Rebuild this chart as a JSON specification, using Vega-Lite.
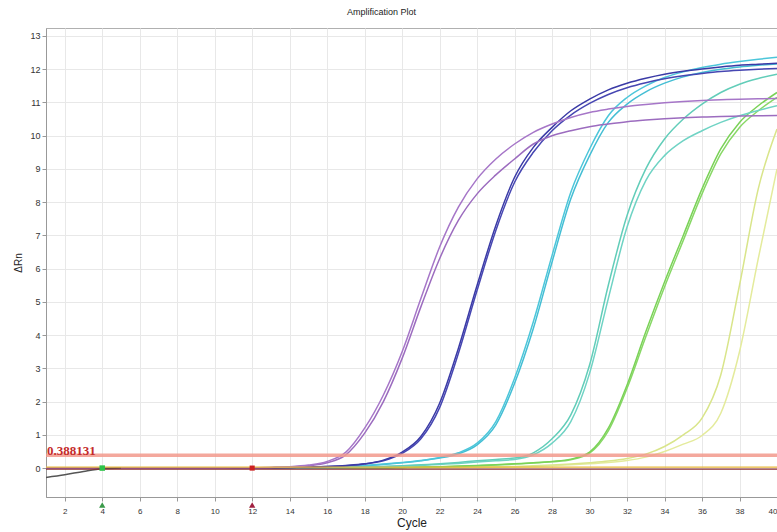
{
  "$schema": "https://vega.github.io/schema/vega-lite/v6.json",
  "width": 731,
  "height": 469,
  "autosize": {"type": "none"},
  "padding": {"left": 46, "top": 28, "right": 0, "bottom": 35},
  "background": "white",
  "title": {"text": "Amplification Plot", "fontSize": 9, "fontWeight": "normal", "color": "#222", "font": "Liberation Sans", "offset": 11, "dx": -30},
  "config": {
    "font": "Liberation Sans",
    "view": {"stroke": "#b0b0b0", "strokeWidth": 1},
    "axis": {"gridColor": "#e8e8e8", "domainColor": "#999", "tickColor": "#999", "labelColor": "#333", "titleColor": "#222", "titleFontWeight": "normal", "labelOverlap": false, "labelSeparation": 0},
    "axisX": {"title": "Cycle", "values": [2,4,6,8,10,12,14,16,18,20,22,24,26,28,30,32,34,36,38], "labelFontSize": 8, "tickSize": 4, "labelPadding": 6, "titleFontSize": 12, "titlePadding": 2, "grid": true},
    "axisY": {"title": "ΔRn", "values": [0,1,2,3,4,5,6,7,8,9,10,11,12,13], "labelFontSize": 9, "tickSize": 4, "labelPadding": 2, "titleFontSize": 10, "titlePadding": 6, "grid": true}
  },
  "data": {"values": [
    {"cycle":1,"PA":0,"PB":0,"D1":0,"D2":0,"C1":0,"C2":0,"T1":0,"T2":0,"G1":0,"G2":0,"Y1":0,"Y2":0,"K":-0.28},
    {"cycle":2,"PA":0,"PB":0,"D1":0,"D2":0,"C1":0,"C2":0,"T1":0,"T2":0,"G1":0,"G2":0,"Y1":0,"Y2":0,"K":-0.2},
    {"cycle":3,"PA":0,"PB":0,"D1":0,"D2":0,"C1":0,"C2":0,"T1":0,"T2":0,"G1":0,"G2":0,"Y1":0,"Y2":0,"K":-0.1},
    {"cycle":4,"PA":0,"PB":0,"D1":0,"D2":0,"C1":0,"C2":0,"T1":0,"T2":0,"G1":0,"G2":0,"Y1":0,"Y2":0,"K":-0.02},
    {"cycle":5,"PA":0,"PB":0,"D1":0,"D2":0,"C1":0,"C2":0,"T1":0,"T2":0,"G1":0,"G2":0,"Y1":0,"Y2":0,"K":0},
    {"cycle":6,"PA":0,"PB":0,"D1":0,"D2":0,"C1":0,"C2":0,"T1":0,"T2":0,"G1":0,"G2":0,"Y1":0,"Y2":0},
    {"cycle":7,"PA":0,"PB":0,"D1":0,"D2":0,"C1":0,"C2":0,"T1":0,"T2":0,"G1":0,"G2":0,"Y1":0,"Y2":0},
    {"cycle":8,"PA":0,"PB":0,"D1":0,"D2":0,"C1":0,"C2":0,"T1":0,"T2":0,"G1":0,"G2":0,"Y1":0,"Y2":0},
    {"cycle":9,"PA":0,"PB":0,"D1":0,"D2":0,"C1":0,"C2":0,"T1":0,"T2":0,"G1":0,"G2":0,"Y1":0,"Y2":0},
    {"cycle":10,"PA":0,"PB":0,"D1":0,"D2":0,"C1":0,"C2":0,"T1":0,"T2":0,"G1":0,"G2":0,"Y1":0,"Y2":0},
    {"cycle":11,"PA":0.01,"PB":0.01,"D1":0,"D2":0,"C1":0,"C2":0,"T1":0,"T2":0,"G1":0,"G2":0,"Y1":0,"Y2":0},
    {"cycle":12,"PA":0.01,"PB":0.01,"D1":0,"D2":0,"C1":0,"C2":0,"T1":0,"T2":0,"G1":0,"G2":0,"Y1":0,"Y2":0},
    {"cycle":13,"PA":0.02,"PB":0.02,"D1":0.01,"D2":0.01,"C1":0,"C2":0,"T1":0,"T2":0,"G1":0,"G2":0,"Y1":0,"Y2":0},
    {"cycle":14,"PA":0.04,"PB":0.03,"D1":0.02,"D2":0.02,"C1":0.01,"C2":0.01,"T1":0,"T2":0,"G1":0,"G2":0,"Y1":0,"Y2":0},
    {"cycle":15,"PA":0.09,"PB":0.07,"D1":0.03,"D2":0.03,"C1":0.02,"C2":0.02,"T1":0.01,"T2":0.01,"G1":0,"G2":0,"Y1":0,"Y2":0},
    {"cycle":16,"PA":0.2,"PB":0.16,"D1":0.05,"D2":0.05,"C1":0.03,"C2":0.03,"T1":0.01,"T2":0.01,"G1":0,"G2":0,"Y1":0,"Y2":0},
    {"cycle":17,"PA":0.48,"PB":0.4,"D1":0.08,"D2":0.07,"C1":0.05,"C2":0.05,"T1":0.02,"T2":0.02,"G1":0.01,"G2":0.01,"Y1":0,"Y2":0},
    {"cycle":18,"PA":1.2,"PB":1.05,"D1":0.13,"D2":0.12,"C1":0.08,"C2":0.07,"T1":0.03,"T2":0.03,"G1":0.01,"G2":0.01,"Y1":0,"Y2":0},
    {"cycle":19,"PA":2.2,"PB":2.0,"D1":0.24,"D2":0.22,"C1":0.12,"C2":0.11,"T1":0.05,"T2":0.04,"G1":0.01,"G2":0.01,"Y1":0.01,"Y2":0},
    {"cycle":20,"PA":3.5,"PB":3.3,"D1":0.48,"D2":0.44,"C1":0.17,"C2":0.16,"T1":0.07,"T2":0.06,"G1":0.02,"G2":0.02,"Y1":0.01,"Y2":0.01},
    {"cycle":21,"PA":5.1,"PB":4.85,"D1":0.95,"D2":0.88,"C1":0.23,"C2":0.22,"T1":0.1,"T2":0.08,"G1":0.03,"G2":0.03,"Y1":0.01,"Y2":0.01},
    {"cycle":22,"PA":6.65,"PB":6.3,"D1":1.95,"D2":1.82,"C1":0.32,"C2":0.3,"T1":0.13,"T2":0.11,"G1":0.04,"G2":0.04,"Y1":0.02,"Y2":0.01},
    {"cycle":23,"PA":7.85,"PB":7.45,"D1":3.6,"D2":3.45,"C1":0.46,"C2":0.43,"T1":0.17,"T2":0.14,"G1":0.06,"G2":0.05,"Y1":0.02,"Y2":0.01},
    {"cycle":24,"PA":8.7,"PB":8.25,"D1":5.5,"D2":5.35,"C1":0.75,"C2":0.7,"T1":0.22,"T2":0.18,"G1":0.08,"G2":0.07,"Y1":0.03,"Y2":0.02},
    {"cycle":25,"PA":9.3,"PB":8.82,"D1":7.3,"D2":7.15,"C1":1.4,"C2":1.3,"T1":0.26,"T2":0.22,"G1":0.1,"G2":0.09,"Y1":0.04,"Y2":0.03},
    {"cycle":26,"PA":9.75,"PB":9.3,"D1":8.75,"D2":8.6,"C1":2.7,"C2":2.55,"T1":0.3,"T2":0.26,"G1":0.13,"G2":0.12,"Y1":0.05,"Y2":0.04},
    {"cycle":27,"PA":10.1,"PB":9.75,"D1":9.65,"D2":9.5,"C1":4.4,"C2":4.2,"T1":0.46,"T2":0.4,"G1":0.16,"G2":0.15,"Y1":0.07,"Y2":0.05},
    {"cycle":28,"PA":10.35,"PB":10.0,"D1":10.25,"D2":10.15,"C1":6.4,"C2":6.2,"T1":0.88,"T2":0.75,"G1":0.2,"G2":0.19,"Y1":0.09,"Y2":0.07},
    {"cycle":29,"PA":10.55,"PB":10.15,"D1":10.75,"D2":10.62,"C1":8.3,"C2":8.1,"T1":1.6,"T2":1.4,"G1":0.27,"G2":0.25,"Y1":0.12,"Y2":0.1},
    {"cycle":30,"PA":10.7,"PB":10.27,"D1":11.1,"D2":10.97,"C1":9.6,"C2":9.4,"T1":3.1,"T2":2.85,"G1":0.48,"G2":0.45,"Y1":0.16,"Y2":0.13},
    {"cycle":31,"PA":10.8,"PB":10.35,"D1":11.38,"D2":11.24,"C1":10.6,"C2":10.4,"T1":5.5,"T2":5.1,"G1":1.2,"G2":1.12,"Y1":0.21,"Y2":0.17},
    {"cycle":32,"PA":10.88,"PB":10.42,"D1":11.58,"D2":11.44,"C1":11.15,"C2":10.95,"T1":7.6,"T2":7.25,"G1":2.5,"G2":2.4,"Y1":0.29,"Y2":0.23},
    {"cycle":33,"PA":10.94,"PB":10.47,"D1":11.73,"D2":11.59,"C1":11.5,"C2":11.32,"T1":9.0,"T2":8.65,"G1":4.1,"G2":3.95,"Y1":0.42,"Y2":0.33},
    {"cycle":34,"PA":10.99,"PB":10.51,"D1":11.85,"D2":11.71,"C1":11.75,"C2":11.58,"T1":9.9,"T2":9.4,"G1":5.6,"G2":5.45,"Y1":0.65,"Y2":0.5},
    {"cycle":35,"PA":11.03,"PB":10.54,"D1":11.94,"D2":11.8,"C1":11.92,"C2":11.77,"T1":10.5,"T2":9.85,"G1":7.0,"G2":6.85,"Y1":1.0,"Y2":0.72},
    {"cycle":36,"PA":11.06,"PB":10.56,"D1":12.01,"D2":11.87,"C1":12.05,"C2":11.9,"T1":10.95,"T2":10.15,"G1":8.4,"G2":8.25,"Y1":1.5,"Y2":0.98},
    {"cycle":37,"PA":11.08,"PB":10.58,"D1":12.07,"D2":11.93,"C1":12.15,"C2":12.0,"T1":11.3,"T2":10.4,"G1":9.6,"G2":9.45,"Y1":2.8,"Y2":1.65},
    {"cycle":38,"PA":11.1,"PB":10.59,"D1":12.12,"D2":11.97,"C1":12.23,"C2":12.07,"T1":11.55,"T2":10.6,"G1":10.4,"G2":10.25,"Y1":5.5,"Y2":3.5},
    {"cycle":39,"PA":11.11,"PB":10.6,"D1":12.15,"D2":12.0,"C1":12.3,"C2":12.12,"T1":11.72,"T2":10.76,"G1":10.9,"G2":10.75,"Y1":8.4,"Y2":6.3},
    {"cycle":40,"PA":11.12,"PB":10.61,"D1":12.18,"D2":12.02,"C1":12.36,"C2":12.16,"T1":11.85,"T2":10.9,"G1":11.3,"G2":11.15,"Y1":10.2,"Y2":9.0}
  ]},
  "layer": [
    {
      "transform": [
        {"fold": ["Y2","Y1","G2","G1","T2","T1","C2","C1","D2","D1","PB","PA","K"], "as": ["well","rn"]},
        {"filter": "isValid(datum.rn)"}
      ],
      "mark": {"type": "line", "interpolate": "monotone", "strokeWidth": 1.5, "clip": true},
      "encoding": {
        "x": {"field": "cycle", "type": "quantitative", "title": "Cycle",
              "scale": {"domain": [1, 40], "nice": false, "zero": false}},
        "y": {"field": "rn", "type": "quantitative", "title": "ΔRn",
              "scale": {"domain": [-0.87, 13.24], "nice": false, "zero": false}},
        "color": {"field": "well", "type": "nominal", "legend": null,
                  "scale": {"domain": ["PA","PB","D1","D2","C1","C2","T1","T2","G1","G2","Y1","Y2","K"],
                            "range": ["#a676c8","#9c6cbf","#3a3aa6","#4646b2","#4cc6da","#44bed4","#62cdb9","#6fd3c4","#7ad257","#88d866","#d9e58a","#e4eb9c","#555555"]}},
        "detail": {"field": "well"}
      }
    },
    {
      "data": {"values": [{"rn": 0}]},
      "mark": {"type": "rule", "color": "#e8b83a", "strokeWidth": 1.2},
      "encoding": {"y": {"field": "rn", "type": "quantitative", "title": "ΔRn"}, "yOffset": {"value": -1}}
    },
    {
      "data": {"values": [{"rn": 0}]},
      "mark": {"type": "rule", "color": "#8b2f35", "strokeWidth": 1.3},
      "encoding": {"y": {"field": "rn", "type": "quantitative", "title": "ΔRn"}, "yOffset": {"value": 1}}
    },
    {
      "data": {"values": [{"rn": 0.388131}]},
      "mark": {"type": "rule", "color": "#f2998c", "strokeWidth": 3.5, "opacity": 0.85},
      "encoding": {"y": {"field": "rn", "type": "quantitative", "title": "ΔRn"}}
    },
    {
      "data": {"values": [{"rn": 0.388131, "cycle": 1}]},
      "mark": {"type": "text", "align": "left", "baseline": "alphabetic", "font": "Liberation Serif", "fontSize": 13, "fontWeight": "bold", "color": "#c42a2a", "dx": 1, "dy": 0},
      "encoding": {"y": {"field": "rn", "type": "quantitative", "title": "ΔRn"}, "x": {"field": "cycle", "type": "quantitative", "title": "Cycle"}, "text": {"field": "rn", "type": "nominal"}}
    },
    {
      "data": {"values": [{"cycle": 4, "rn": 0}]},
      "mark": {"type": "point", "shape": "square", "filled": true, "size": 30, "color": "#2fc24a", "opacity": 1},
      "encoding": {"x": {"field": "cycle", "type": "quantitative", "title": "Cycle"}, "y": {"field": "rn", "type": "quantitative", "title": "ΔRn"}}
    },
    {
      "data": {"values": [{"cycle": 12, "rn": 0}]},
      "mark": {"type": "point", "shape": "square", "filled": true, "size": 26, "color": "#cc2020", "opacity": 1},
      "encoding": {"x": {"field": "cycle", "type": "quantitative", "title": "Cycle"}, "y": {"field": "rn", "type": "quantitative", "title": "ΔRn"}}
    },
    {
      "data": {"values": [{"cycle": 4, "rn": -0.87}]},
      "mark": {"type": "point", "shape": "triangle-up", "filled": true, "size": 40, "color": "#3a9a4a", "opacity": 1, "yOffset": 8},
      "encoding": {"x": {"field": "cycle", "type": "quantitative", "title": "Cycle"}, "y": {"field": "rn", "type": "quantitative", "title": "ΔRn"}}
    },
    {
      "data": {"values": [{"cycle": 12, "rn": -0.87}]},
      "mark": {"type": "point", "shape": "triangle-up", "filled": true, "size": 40, "color": "#a02040", "opacity": 1, "yOffset": 8},
      "encoding": {"x": {"field": "cycle", "type": "quantitative", "title": "Cycle"}, "y": {"field": "rn", "type": "quantitative", "title": "ΔRn"}}
    }
  ]
}
